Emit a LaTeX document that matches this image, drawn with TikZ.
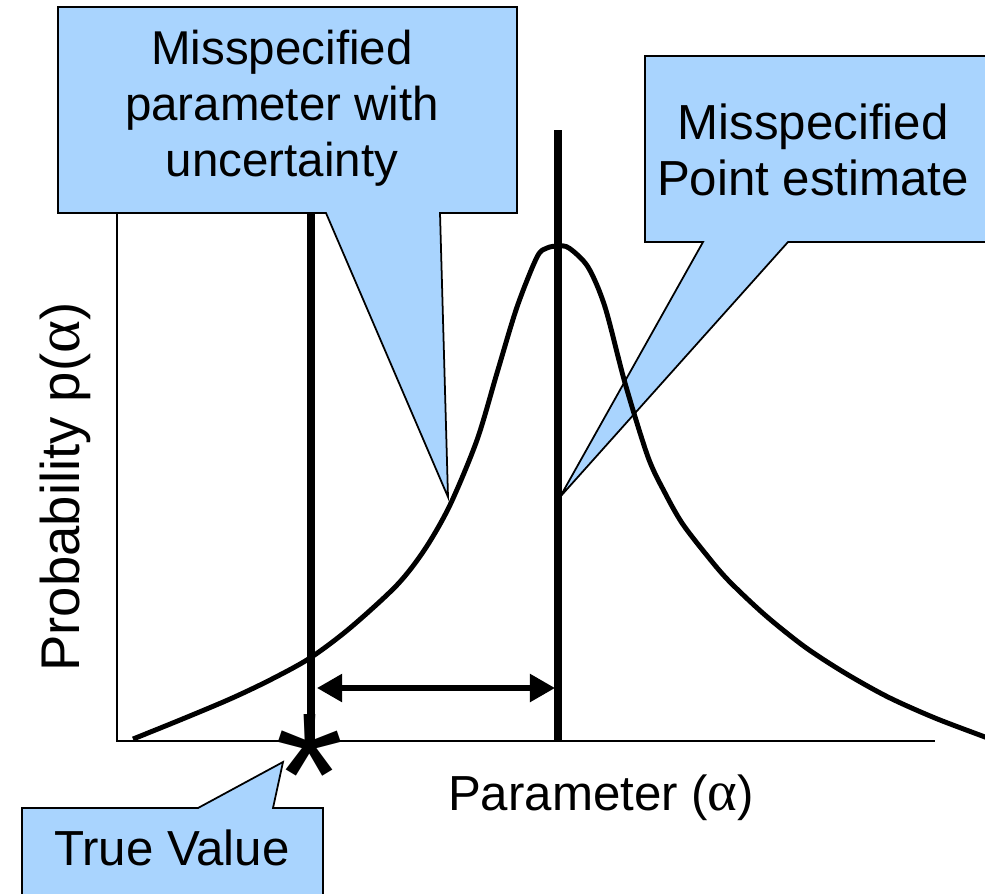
\documentclass[tikz,border=0pt]{standalone}
\usepackage{fontspec}
\setmainfont{Liberation Sans}
\newfontfamily\symfont{Liberation Serif}
\usetikzlibrary{arrows.meta}
\definecolor{callblue}{RGB}{169,212,254}
\tikzset{
  callout/.style={fill=callblue, draw=black, line width=0.5pt},
  lbl/.style={font=\fontsize{14}{16}\selectfont, align=center, inner sep=0pt},
  thickline/.style={line width=2pt},
}
\newcommand{\galpha}{{\symfont\fontsize{1.15em}{1em}\selectfont α}}
\begin{document}
\begin{tikzpicture}[x=0.01cm, y=-0.01cm]
  \useasboundingbox (0,0) rectangle (985,893);
  % axes
  \coordinate (ytop) at (117,213);
  \coordinate (orig) at (117,741);
  \coordinate (xend) at (935,741);
  \draw[line width=0.6pt] (ytop) -- (orig) -- (xend);
  \coordinate (lt) at (311,213);
  \coordinate (lb) at (311,745);
  \draw[thickline] (lt) -- (lb);
  % callouts
  \coordinate (tipA) at (448,497);
  \coordinate (tipB) at (560,497);
  \coordinate (tipC) at (283,762);
  \draw[callout] (58,7) -- (517,7) -- (517,213) -- (440,213) -- (tipA) -- (326,213) -- (58,213) -- cycle;
  \draw[callout] (645,56) -- (1000,56) -- (1000,242) -- (788,242) -- (tipB) -- (703,242) -- (645,242) -- cycle;
  \draw[callout] (22,808) -- (198,808) -- (tipC) -- (273,808) -- (323,808) -- (323,900) -- (22,900) -- cycle;
  \node[lbl, font=\fontsize{13.5}{16}\selectfont] (msA) at (282,108) {Misspecified\\parameter with\\uncertainty};
  \node[lbl] (msB) at (813,150) {Misspecified\\Point estimate};
  \node[lbl, anchor=base] (truev) at (172,865) {True Value};
  % curve
  \draw[line width=1.4pt] plot[smooth] coordinates {(133,739) (180,720) (230,699) (270,680) (310,658) (350,628) (397,585) (425,549) (450,505) (477,440) (497,373) (517,307) (537,257) (547,248) (558,246) (569,248) (588,267) (605,307) (625,383) (648,457) (665,493) (682,523) (705,553) (728,580) (765,615) (805,647) (845,673) (888,697) (935,718) (985,737) (1000,743)};
  % point estimate and offset
  \coordinate (rt) at (558,130);
  \coordinate (rb) at (558,741);
  \draw[thickline] (rt) -- (rb);
  \coordinate (al) at (317,688);
  \coordinate (ar) at (555,688);
  \draw[line width=1.5pt, {Triangle[length=0.25cm,width=0.27cm]}-{Triangle[length=0.25cm,width=0.27cm]}] (al) -- (ar);
  \node[inner sep=0pt, font=\fontsize{50}{50}\selectfont] (star) at (310,775) {*};
  % axis labels
  \node[lbl, anchor=base] (xlab) at (601,810) {Parameter (\galpha)};
  \node[lbl, font=\fontsize{15.5}{18}\selectfont, rotate=90] (ylab) at (65,487) {Probability p(\galpha)};
\end{tikzpicture}
\end{document}
